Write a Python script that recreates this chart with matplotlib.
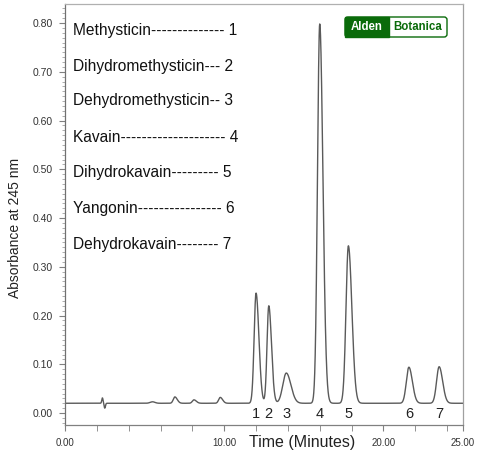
import numpy as np
import matplotlib
matplotlib.use("Agg")
import matplotlib.pyplot as plt
from matplotlib.patches import FancyBboxPatch, Rectangle

plt.rcParams['font.family'] = ['Liberation Sans', 'DejaVu Sans']

# ---- data ----
baseline = 0.020
peak_times = [2.35, 2.50, 5.5, 6.9, 8.1, 9.75, 12.0, 12.8, 13.9, 16.0, 17.8, 21.6, 23.5]
peak_heights = [0.011, -0.010, 0.003, 0.013, 0.007, 0.012, 0.226, 0.200, 0.062, 0.778, 0.323, 0.074, 0.075]
peak_sigma_left = [0.04, 0.04, 0.15, 0.10, 0.10, 0.10, 0.12, 0.11, 0.22, 0.14, 0.15, 0.16, 0.16]
peak_sigma_right = [0.04, 0.04, 0.15, 0.15, 0.15, 0.15, 0.18, 0.17, 0.29, 0.20, 0.22, 0.22, 0.22]

label_numbers = ["1", "2", "3", "4", "5", "6", "7"]
label_times = [12.0, 12.8, 13.9, 16.0, 17.8, 21.6, 23.5]

compound_lines = [
    "Methysticin-------------- 1",
    "Dihydromethysticin--- 2",
    "Dehydromethysticin-- 3",
    "Kavain-------------------- 4",
    "Dihydrokavain--------- 5",
    "Yangonin---------------- 6",
    "Dehydrokavain-------- 7",
]

x_tick_values = [0, 10, 20, 25]
x_tick_labels = ["0.00", "10.00", "20.00", "25.00"]
y_tick_values = [0.0, 0.1, 0.2, 0.3, 0.4, 0.5, 0.6, 0.7, 0.8]

# ---- build trace ----
t = np.linspace(0, 25, 5001)
signal = np.full_like(t, baseline)
for mu, h, sl, sr in zip(peak_times, peak_heights, peak_sigma_left, peak_sigma_right):
    s = np.where(t < mu, sl, sr)
    signal += h * np.exp(-0.5 * ((t - mu) / s) ** 2)

W, H = 479, 455
fig = plt.figure(figsize=(W / 100, H / 100), dpi=100)
left, right, top, bottom = 65, 463, 4, 425
ax = fig.add_axes([left / W, 1 - bottom / H, (right - left) / W, (bottom - top) / H])

ax.plot(t, signal, color='#5a5a5a', lw=1.0)
ax.set_xlim(0, 25)
ax.set_ylim(-0.0246, 0.839)

# spines
ax.spines['left'].set_color('#707070')
ax.spines['bottom'].set_color('#808080')
ax.spines['bottom'].set_linestyle((0, (2, 1)))
ax.spines['top'].set_color('#b0b0b0')
ax.spines['top'].set_linestyle((0, (2, 1)))
ax.spines['right'].set_color('#a0a0a0')
for s in ['top', 'right', 'bottom', 'left']:
    ax.spines[s].set_linewidth(0.9)

# x ticks
ax.set_xticks(x_tick_values)
ax.set_xticklabels(x_tick_labels)
ax.set_xticks(np.arange(0, 25, 2), minor=True)
ax.tick_params(axis='x', which='both', direction='out', length=4, color='#808080',
               labelsize=7, labelcolor='#333333', pad=5)
# y ticks
ax.set_yticks(y_tick_values)
ax.set_yticklabels([f"{v:.2f}" for v in y_tick_values])
ax.set_yticks(np.arange(-0.02, 0.84, 0.01), minor=True)
ax.tick_params(axis='y', which='major', direction='out', length=4, color='#808080',
               labelsize=7.5, labelcolor='#333333', pad=5)
ax.tick_params(axis='y', which='minor', direction='out', length=2, color='#a0a0a0')

ax.set_xlabel("Time (Minutes)", fontsize=11.5, color='#222222', va='center')
ax.xaxis.set_label_coords((302 - left) / (right - left), -(443 - bottom) / (bottom - top))
ax.set_ylabel("Absorbance at 245 nm", fontsize=10, color='#222222', va='center')
ax.yaxis.set_label_coords((15 - left) / (right - left), 1 - (228 - top) / (bottom - top))

# peak numbers
for num, tt in zip(label_numbers, label_times):
    ax.text(tt, -0.002, num, ha='center', va='center', fontsize=10.5, color='#222222')

# compound list
ys = [30, 66, 101, 137, 173, 209, 244]
for line, yp in zip(compound_lines, ys):
    fig.text(73 / W, 1 - yp / H, line, ha='left', va='center', fontsize=11.2, color='#111111')

# logo
green = '#0a6b0a'
x0, x1, xs = 345, 447, 389
y0, y1 = 17, 37
box = FancyBboxPatch((x0 / W, 1 - y1 / H), (x1 - x0) / W, (y1 - y0) / H,
                     boxstyle="round,pad=0,rounding_size=0.006", transform=fig.transFigure,
                     facecolor='white', edgecolor=green, lw=1.0)
fig.patches.append(box)
fig.patches.append(Rectangle((x0 / W, 1 - y1 / H), (xs - x0) / W, (y1 - y0) / H,
                             transform=fig.transFigure, facecolor=green, edgecolor=green, lw=1.0))
fig.text((x0 + xs) / 2 / W, 1 - 27 / H, "Alden", ha='center', va='center', fontsize=8.3,
         fontweight='bold', color='white')
fig.text((xs + x1) / 2 / W, 1 - 27 / H, "Botanica", ha='center', va='center', fontsize=8.3,
         fontweight='bold', color=green)

fig.savefig("out.png", dpi=100)
